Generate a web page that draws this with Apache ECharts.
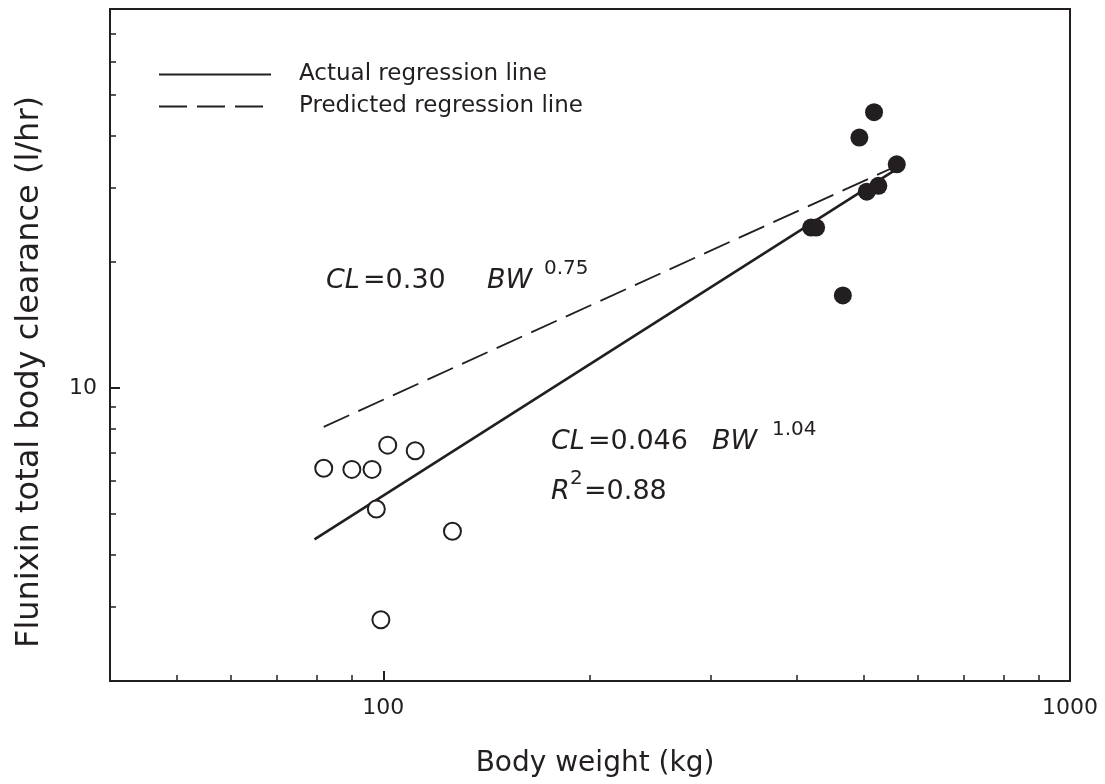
<!DOCTYPE html>
<html><head><meta charset="utf-8">
<script src="https://cdn.jsdelivr.net/npm/echarts@6/dist/echarts.min.js"></script>
<style>html,body{margin:0;padding:0;background:#fff}#c{width:1105px;height:784px}</style>
</head><body><div id="c"></div>
<script>
// Open circles (small animals)
const openWeight = [81.9, 90.0, 96.3, 101.5, 111.3, 97.7, 126.1, 99.2];
const openCL     = [6.43, 6.39, 6.39, 7.30, 7.08, 5.14, 4.55, 2.80];
// Filled circles (adult horses)
const filledWeight = [518.4, 493.5, 559.4, 526.0, 505.9, 419.8, 426.9, 466.9];
const filledCL     = [45.4, 39.5, 34.1, 30.3, 29.35, 24.1, 24.1, 16.6];
// Regression line end points
const actualLineBW = [79.4, 559];
const actualLineCL = [4.35, 33.2];
const predLineBW = [81.9, 555];
const predLineCL = [8.07, 33.6];
// Axis ticks
const xMinorTicks = [50, 60, 70, 80, 90, 200, 300, 400, 500, 600, 700, 800, 900];
const xMajorTicks = [100, 1000];
const yMinorTicks = [3, 4, 5, 6, 7, 8, 9, 20, 30, 40, 50, 60, 70];
const yMajorTicks = [10];
const legendNames = ['Actual regression line', 'Predicted regression line'];
const xTitle = 'Body weight (kg)';
const yTitle = 'Flunixin total body clearance (l/hr)';

const zip = (a, b) => a.map((v, i) => [v, b[i]]);
const INK = '#231f20';
const FONT = 'DejaVu Sans';

const chart = echarts.init(document.getElementById('c'), null, {renderer: 'canvas'});
const baseAxis = (min, max) => ({
  type: 'log', logBase: 10, min: min, max: max,
  axisLine: {show: false}, splitLine: {show: false}
});
const txt = (x, y, text, size, italic, align) => ({
  type: 'text', x: x, y: y, silent: true,
  style: {text: text, fontFamily: FONT, fontSize: size, fontStyle: italic ? 'italic' : 'normal',
          fill: INK, align: align || 'left', verticalAlign: 'middle'}
});
const option = {
  animation: false,
  backgroundColor: '#fff',
  grid: {left: 110, right: 35, top: 9, bottom: 103, show: true, borderColor: INK, borderWidth: 2, backgroundColor: 'transparent'},
  xAxis: [
    Object.assign(baseAxis(40, 1000), {
      position: 'bottom',
      axisTick: {show: true, inside: true, length: 6, lineStyle: {color: INK, width: 1.5}, customValues: xMinorTicks},
      axisLabel: {show: false}
    }),
    Object.assign(baseAxis(40, 1000), {
      position: 'bottom',
      axisTick: {show: true, inside: true, length: 10, lineStyle: {color: INK, width: 2}, customValues: xMajorTicks},
      axisLabel: {show: true, customValues: xMajorTicks, formatter: v => String(Math.round(v)),
                  fontFamily: FONT, fontSize: 22, color: INK, margin: 16}
    })
  ],
  yAxis: [
    Object.assign(baseAxis(2, 80), {
      position: 'left',
      axisTick: {show: true, inside: true, length: 6, lineStyle: {color: INK, width: 1.5}, customValues: yMinorTicks},
      axisLabel: {show: false}
    }),
    Object.assign(baseAxis(2, 80), {
      position: 'left',
      axisTick: {show: true, inside: true, length: 10, lineStyle: {color: INK, width: 2}, customValues: yMajorTicks},
      axisLabel: {show: true, customValues: yMajorTicks, formatter: v => String(Math.round(v)),
                  fontFamily: FONT, fontSize: 22, color: INK, margin: 13}
    })
  ],
  legend: {
    data: legendNames, orient: 'vertical', left: 153, top: 58,
    itemWidth: 112, itemHeight: 16, itemGap: 9,
    itemStyle: {opacity: 0, borderWidth: 0},
    textStyle: {fontFamily: FONT, fontSize: 23, color: INK, padding: [0, 0, 0, 23]},
    selectedMode: false
  },
  series: [
    {name: legendNames[0], type: 'line', data: zip(actualLineBW, actualLineCL), symbol: 'none', showSymbol: false,
     lineStyle: {color: INK, width: 2.6}, itemStyle: {color: INK}, z: 2},
    {name: legendNames[1], type: 'line', data: zip(predLineBW, predLineCL), symbol: 'none', showSymbol: false,
     lineStyle: {color: INK, width: 1.8, type: [28, 10]}, itemStyle: {color: INK}, z: 2},
    {name: 'small', type: 'scatter', data: zip(openWeight, openCL), symbol: 'circle', symbolSize: 17,
     itemStyle: {color: '#fff', borderColor: INK, borderWidth: 2, opacity: 1}, z: 3},
    {name: 'adult', type: 'scatter', data: zip(filledWeight, filledCL), symbol: 'circle', symbolSize: 18,
     itemStyle: {color: INK, opacity: 1}, z: 3}
  ],
  graphic: [
    // axis titles
    Object.assign(txt(30, 372, yTitle, 32, false, 'center'), {rotation: Math.PI / 2}),
    txt(595, 764, xTitle, 28, false, 'center'),
    // CL = 0.30 BW^0.75
    txt(326, 281, 'CL', 27, true), txt(363, 281, '=0.30', 27, false),
    txt(487, 281, 'BW', 27, true), txt(544, 269, '0.75', 20, false),
    // CL = 0.046 BW^1.04
    txt(551, 442, 'CL', 27, true), txt(588, 442, '=0.046', 27, false),
    txt(712, 442, 'BW', 27, true), txt(772, 430, '1.04', 20, false),
    // R^2 = 0.88
    txt(551, 492, 'R', 27, true), txt(570, 479, '2', 20, false), txt(584, 492, '=0.88', 27, false)
  ]
};
chart.setOption(option);
</script></body></html>
